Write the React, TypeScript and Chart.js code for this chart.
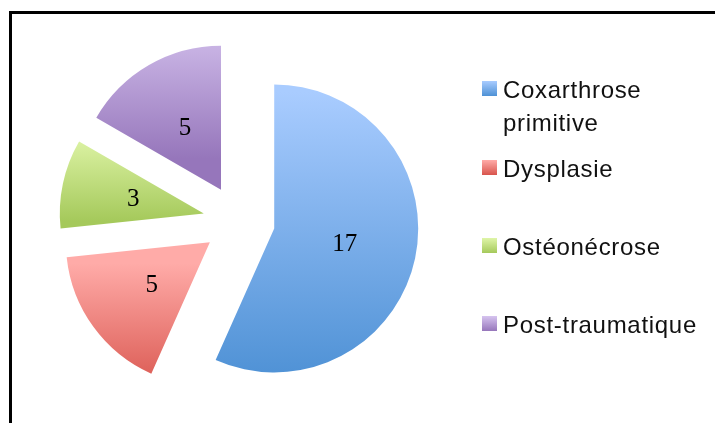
import React, { useEffect, useRef } from "react";
import { Chart, registerables } from "chart.js";

Chart.register(...registerables);

const categories = ["Coxarthrose primitive", "Dysplasie", "Ostéonécrose", "Post-traumatique"];
const values = [17, 5, 3, 5];
const topColors = ["#a9ccff", "#ffaba8", "#dff5a8", "#d6c4ef"];
const bottomColors = ["#4e91d5", "#d8544c", "#a5c95b", "#9676bb"];

const EXPLODE = 36;
const RADIUS = 144;

const explodedPie = {
  id: "explodedPie",
  beforeDatasetsDraw(chart: any) {
    const ctx = chart.ctx as CanvasRenderingContext2D;
    const meta = chart.getDatasetMeta(0);
    meta.data.forEach((arc: any, i: number) => {
      const { x, y, startAngle, endAngle, outerRadius } = arc.getProps(
        ["x", "y", "startAngle", "endAngle", "outerRadius"],
        true
      );
      const mid = (startAngle + endAngle) / 2;
      const dx = Math.cos(mid) * EXPLODE;
      const dy = Math.sin(mid) * EXPLODE;
      const ys = [y, y + Math.sin(startAngle) * outerRadius, y + Math.sin(endAngle) * outerRadius];
      for (let k = -2; k <= 2; k++) {
        const a1 = -Math.PI / 2 + 2 * Math.PI * k;
        if (a1 >= startAngle && a1 <= endAngle) ys.push(y - outerRadius);
        const a2 = Math.PI / 2 + 2 * Math.PI * k;
        if (a2 >= startAngle && a2 <= endAngle) ys.push(y + outerRadius);
      }
      const y0 = Math.min(...ys) + dy;
      const y1 = Math.max(...ys) + dy;
      const g = ctx.createLinearGradient(0, y0, 0, y1);
      g.addColorStop(0, topColors[i]);
      g.addColorStop(1, bottomColors[i]);
      const orig = arc.options;
      arc.options = Object.assign(Object.create(orig), {
        backgroundColor: g,
        borderWidth: 0,
        offset: 0,
        spacing: 0,
      });
      ctx.save();
      ctx.translate(dx, dy);
      arc.draw(ctx);
      ctx.restore();
      arc.options = orig;
    });
    return false;
  },
  afterDraw(chart: any) {
    const ctx = chart.ctx as CanvasRenderingContext2D;
    const meta = chart.getDatasetMeta(0);
    ctx.save();
    ctx.font = "25px 'Liberation Serif', 'DejaVu Serif', serif";
    ctx.fillStyle = "#000000";
    ctx.textAlign = "center";
    ctx.textBaseline = "middle";
    meta.data.forEach((arc: any, i: number) => {
      const { x, y, startAngle, endAngle, outerRadius } = arc.getProps(
        ["x", "y", "startAngle", "endAngle", "outerRadius"],
        true
      );
      const mid = (startAngle + endAngle) / 2;
      const d = EXPLODE + outerRadius / 2;
      ctx.fillText(String(values[i]), x + Math.cos(mid) * d, y + Math.sin(mid) * d + 1);
    });
    ctx.restore();
  },
};

export default function App() {
  const canvasRef = useRef<HTMLCanvasElement | null>(null);

  useEffect(() => {
    if (!canvasRef.current) return;
    const chart = new Chart(canvasRef.current, {
      type: "pie",
      data: {
        labels: categories,
        datasets: [
          {
            data: values,
            backgroundColor: bottomColors,
            borderWidth: 0,
            radius: RADIUS,
          } as any,
        ],
      },
      options: {
        responsive: false,
        animation: false,
        layout: { padding: { left: 0, right: 237, top: 19, bottom: 0 } },
        plugins: {
          legend: { display: false },
          tooltip: { enabled: false },
        },
        events: [],
      },
      plugins: [explodedPie],
    });
    return () => chart.destroy();
  }, []);

  const legendTops = [73, 152, 230, 308];

  return (
    <div
      style={{
        position: "absolute",
        left: 0,
        top: 0,
        width: 715,
        height: 423,
        overflow: "hidden",
        background: "#ffffff",
      }}
    >
      <div
        style={{
          position: "absolute",
          left: 9,
          top: 11,
          width: 900,
          height: 600,
          borderTop: "3px solid #000",
          borderLeft: "3px solid #000",
          boxSizing: "border-box",
        }}
      />
      <canvas
        ref={canvasRef}
        width={715}
        height={423}
        style={{ position: "absolute", left: 0, top: 0, width: 715, height: 423 }}
      />
      {categories.map((name, i) => (
        <div
          key={name}
          style={{
            position: "absolute",
            left: 482,
            top: legendTops[i],
            width: 232,
            fontFamily: "'Liberation Sans', Arial, sans-serif",
            fontSize: 24,
            lineHeight: "33px",
            letterSpacing: 0.7,
            color: "#111111",
          }}
        >
          <div
            style={{
              position: "absolute",
              left: 0,
              top: 8,
              width: 15,
              height: 15,
              background: `linear-gradient(${topColors[i]}, ${bottomColors[i]})`,
            }}
          />
          <div style={{ marginLeft: 21, width: 205, whiteSpace: "normal" }}>{name}</div>
        </div>
      ))}
    </div>
  );
}
